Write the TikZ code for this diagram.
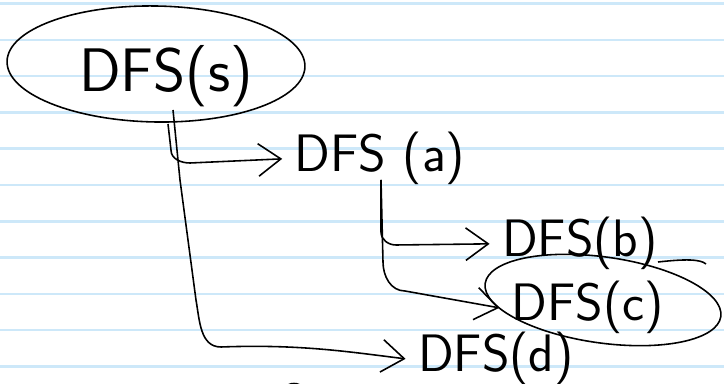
\documentclass[tikz,border=0pt]{standalone}
\usepackage{tikz}
\usetikzlibrary{shapes.geometric,arrows.meta}
\definecolor{ruleblue}{HTML}{CDE8F9}

\begin{document}
\begin{tikzpicture}[x=0.02cm,y=-0.02cm,
        call/.style={font=\sffamily\fontsize{30}{30}\selectfont,inner xsep=7pt,anchor=base},
        ring/.style={ellipse,draw,line width=0.9pt,inner sep=0pt},
        link/.style={line width=0.9pt,-{Straight Barb[length=4.5mm,width=6.5mm]}}]
  \useasboundingbox (0,0) rectangle (724,384);
  % ruled paper
  \foreach \k in {0,...,10}
    \draw[ruleblue,line width=1.4pt] (0,{3.5+36.3*\k}) -- (724,{3.5+36.3*\k});
  % calls
  \node[ring,minimum width=5.96cm,minimum height=2.32cm,rotate=-1] (sring) at(156,64){};
  \node[call,font=\sffamily\fontsize{35}{35}\selectfont] (s) at(166,92){DFS(s)};
  \node[call] (a) at(380,172){DFS (a)};
  \node[call] (b) at(580,257){DFS(b)};
  \node[call] (c) at(588,321){DFS(c)};
  \node[ring,minimum width=4.76cm,minimum height=1.72cm,rotate=-8] (cring) at(603,300){};
  \node[call] (d) at(496,372){DFS(d)};
  \coordinate (sfoot) at(173,110);
  \coordinate (afork) at(168,124);
  \coordinate (afoot) at(381,180);
  % edges
  \draw[link] (afork) -- (171,150) to[out=-90,in=180] (190,163) -- (a.west);
  \draw[link] (sfoot) -- (180,180) -- (196,300) to[out=-80,in=180] (221,347)
        .. controls (300,344) and (350,352) .. (d.west);
  \draw[link] (afoot) -- (381,232) to[out=-90,in=180] (396,245) -- (b.west);
  \draw[link] (afoot) -- (383,262) to[out=-90,in=180] (405,291) -- (c.west);
  % stray strokes
  \draw[line width=0.9pt] (658,262) .. controls (685,259) and (700,259) .. (706,264);
  \draw[line width=0.9pt] (284,388) .. controls (290,382) and (298,382) .. (304,388);
\end{tikzpicture}
\end{document}
